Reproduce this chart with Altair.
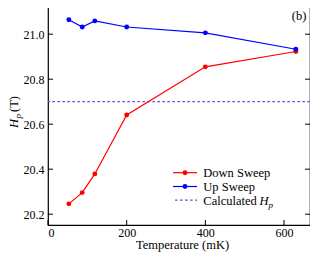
import altair as alt
import pandas as pd

temps = [53, 87, 119, 200, 400, 630]
down_sweep = [20.246, 20.296, 20.379, 20.641, 20.855, 20.923]
up_sweep = [21.064, 21.032, 21.059, 21.032, 21.006, 20.933]
calc_hp = [20.70]
x_ticks = [0, 200, 400, 600]
y_ticks = [20.2, 20.4, 20.6, 20.8, 21.0]
series_names = ["Down Sweep", "Up Sweep"]
series_colors = ["#ff0000", "#0000ff"]
calc_color = "#7f4ad9"

W, H = 262, 225
FONT = "Liberation Serif, Times New Roman, Times, DejaVu Serif, serif"

df = pd.DataFrame({
    "T": temps + temps,
    "Hp": down_sweep + up_sweep,
    "series": [series_names[0]] * len(temps) + [series_names[1]] * len(temps),
})
df_calc = pd.DataFrame({"v": calc_hp})
df_xt = pd.DataFrame({"T": x_ticks})
df_yt = pd.DataFrame({"Hp": y_ticks})

xs = alt.Scale(domain=[0, 666], nice=False, zero=False)
ys = alt.Scale(domain=[20.152, 21.152], nice=False, zero=False)

x_axis = alt.Axis(values=x_ticks, ticks=False, domain=False, grid=False,
                  labelPadding=2, labelFont=FONT, labelFontSize=12, labelColor="black",
                  title=None)
y_axis = alt.Axis(values=y_ticks, format=".1f", ticks=False, domain=False, grid=False,
                  labelPadding=4, labelFont=FONT, labelFontSize=12, labelColor="black",
                  title=None)

X = alt.X("T:Q", scale=xs, axis=x_axis)
Y = alt.Y("Hp:Q", scale=ys, axis=y_axis)
color = alt.Color("series:N", scale=alt.Scale(domain=series_names, range=series_colors), legend=None)

base = alt.Chart(df)
lines = base.mark_line(strokeWidth=1.2).encode(x=X, y=Y, color=color, detail="series:N")
points = base.mark_circle(size=24, opacity=1).encode(x=X, y=Y, color=color)

calc_rule = alt.Chart(df_calc).mark_rule(color=calc_color, strokeWidth=1.3, strokeDash=[2.7, 2.3]).encode(
    y=alt.Y("v:Q", scale=ys, axis=y_axis))

# inward ticks
tick_style = dict(color="black", strokeWidth=1)
xt_bottom = alt.Chart(df_xt).mark_rule(**tick_style).encode(x=X, y=alt.value(H), y2=alt.value(H - 5))
xt_top = alt.Chart(df_xt).mark_rule(**tick_style).encode(x=X, y=alt.value(0), y2=alt.value(5))
yt_left = alt.Chart(df_yt).mark_rule(**tick_style).encode(y=Y, x=alt.value(0), x2=alt.value(5))
yt_right = alt.Chart(df_yt).mark_rule(**tick_style).encode(y=Y, x=alt.value(W - 5), x2=alt.value(W))

one = alt.Chart(pd.DataFrame({"a": [0]}))
txt = dict(font=FONT, color="black")

# x-axis title
xtitle = one.mark_text(text="Temperature (mK)", fontSize=12.5, align="center",
                       baseline="alphabetic", **txt).encode(x=alt.value(134.5), y=alt.value(249.3))

# y-axis title: H_p (T)
ytitle_H = one.mark_text(text="H", fontSize=12.5, fontStyle="italic", angle=270,
                         align="left", baseline="alphabetic", **txt).encode(
    x=alt.value(-30.5), y=alt.value(128))
ytitle_p = one.mark_text(text="p", fontSize=9, fontStyle="italic", angle=270,
                         align="left", baseline="alphabetic", **txt).encode(
    x=alt.value(-27.5), y=alt.value(118.5))
ytitle_T = one.mark_text(text="(T)", fontSize=12.5, angle=270,
                         align="left", baseline="alphabetic", **txt).encode(
    x=alt.value(-30.5), y=alt.value(112))

panel = one.mark_text(text="(b)", fontSize=12.5, align="center", baseline="middle",
                      **txt).encode(x=alt.value(251), y=alt.value(15.5))

# legend
rows_y = [172.7, 186.5, 200.2]
leg = []
for i, (name, col) in enumerate(zip(series_names, series_colors)):
    leg.append(one.mark_rule(color=col, strokeWidth=1.2).encode(
        x=alt.value(125), x2=alt.value(149), y=alt.value(rows_y[i])))
    leg.append(one.mark_circle(color=col, size=24, opacity=1).encode(
        x=alt.value(137), y=alt.value(rows_y[i])))
    leg.append(one.mark_text(text=name, fontSize=12.5, align="left",
                             baseline="alphabetic", **txt).encode(
        x=alt.value(155.3), y=alt.value(rows_y[i] + 4.3)))
leg.append(one.mark_rule(color=calc_color, strokeWidth=1.2, strokeDash=[2.7, 2.3]).encode(
    x=alt.value(127), x2=alt.value(149), y=alt.value(rows_y[2])))
leg.append(one.mark_text(text="Calculated", fontSize=12.5, align="left",
                         baseline="alphabetic", **txt).encode(
    x=alt.value(155.3), y=alt.value(rows_y[2] + 4.3)))
leg.append(one.mark_text(text="H", fontSize=12.5, fontStyle="italic", align="left",
                         baseline="alphabetic", **txt).encode(
    x=alt.value(211.5), y=alt.value(rows_y[2] + 4.3)))
leg.append(one.mark_text(text="p", fontSize=9, fontStyle="italic", align="left",
                         baseline="alphabetic", **txt).encode(
    x=alt.value(220.5), y=alt.value(rows_y[2] + 7.3)))

chart = alt.layer(
    calc_rule, lines, points, xt_bottom, xt_top, yt_left, yt_right,
    xtitle, ytitle_H, ytitle_p, ytitle_T, panel, *leg
).properties(
    width=W, height=H,
    padding={"left": 40, "top": -8, "right": 0, "bottom": 27},
    autosize=alt.AutoSizeParams(type="none"),
    background="white",
).configure_view(stroke="black", strokeWidth=1.2)

chart.save("out.html", embed_options={"renderer": "svg", "actions": False})
